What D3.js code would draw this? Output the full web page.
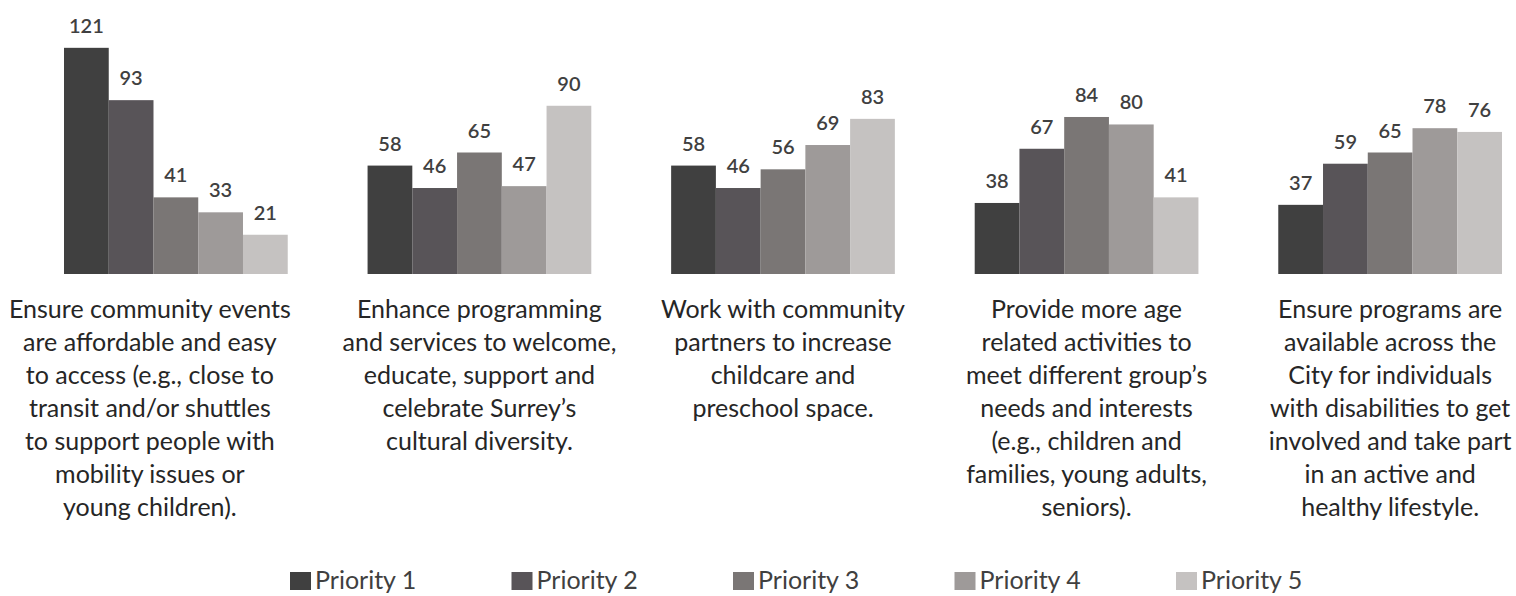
<!DOCTYPE html>
<html><head><meta charset="utf-8">
<script src="https://cdn.jsdelivr.net/npm/d3@7"></script>
<style>body{margin:0;background:#fff}svg{display:block}</style>
</head><body>
<svg id="c" width="1516" height="596"></svg>
<script>
const categories = [
  ["Ensure community events","are affordable and easy","to access (e.g., close to","transit and/or shuttles","to support people with","mobility issues or","young children)."],
  ["Enhance programming","and services to welcome,","educate, support and","celebrate Surrey\u2019s","cultural diversity."],
  ["Work with community","partners to increase","childcare and","preschool space."],
  ["Provide more age","related activities to","meet different group\u2019s","needs and interests","(e.g., children and","families, young adults,","seniors)."],
  ["Ensure programs are","available across the","City for individuals","with disabilities to get","involved and take part","in an active and","healthy lifestyle."]
];
const seriesNames = ["Priority 1","Priority 2","Priority 3","Priority 4","Priority 5"];
const priority1 = [121, 58, 58, 38, 37];
const priority2 = [93, 46, 46, 67, 59];
const priority3 = [41, 65, 56, 84, 65];
const priority4 = [33, 47, 69, 80, 78];
const priority5 = [21, 90, 83, 41, 76];
const colors = ["#404040","#585458","#7a7675","#9e9a99","#c5c2c1"];

const series = [priority1, priority2, priority3, priority4, priority5];
const svg = d3.select("#c");
const font = "Lato, 'Open Sans', sans-serif";
const x0 = d3.scaleBand().domain(d3.range(categories.length)).range([64, 1502]).paddingInner(0.263).paddingOuter(0);
const x1 = d3.scaleBand().domain(d3.range(seriesNames.length)).range([0, x0.bandwidth()]).padding(0);
const y = d3.scaleLinear().domain([0, 130]).range([274, 31]);

const groups = svg.selectAll("g.grp").data(categories).join("g").attr("class","grp")
  .attr("transform", (d,i) => `translate(${x0(i)},0)`);

groups.each(function(cat, ci){
  const g = d3.select(this);
  const vals = series.map(s => s[ci]);
  g.selectAll("rect").data(vals).join("rect")
    .attr("x", (d,si) => x1(si)).attr("width", x1.bandwidth())
    .attr("y", d => y(d)).attr("height", d => y(0) - y(d))
    .attr("fill", (d,si) => colors[si]);
  g.selectAll("text.val").data(vals).join("text").attr("class","val")
    .attr("x", (d,si) => x1(si) + x1.bandwidth()/2)
    .attr("y", d => y(d) - 15)
    .attr("text-anchor","middle")
    .attr("font-family", font).attr("font-size", 20).attr("font-weight", 600)
    .attr("fill", "#404040")
    .text(d => d);
});

// category labels: centred under each group; a block that comes close to the
// left edge is pushed flush to the chart margin (as the source layout does)
const edge = 9;
categories.forEach((lines, ci) => {
  const t = svg.append("text").attr("text-anchor","middle")
    .attr("font-family", font).attr("font-size", 25).attr("fill","#262626");
  const spans = lines.map((ln, li) => t.append("tspan").attr("y", 318 + li*33).text(ln));
  const w = d3.max(spans, s => s.node().getComputedTextLength());
  let cx = x0(ci) + x0.bandwidth()/2;
  if (cx - w/2 < 40) cx = edge + w/2;
  spans.forEach(s => s.attr("x", cx));
});

// legend
const lg = svg.append("g");
const lx = d3.scalePoint().domain(d3.range(seriesNames.length)).range([290, 1176]);
seriesNames.forEach((n, i) => {
  lg.append("rect").attr("x", lx(i)).attr("y", 572).attr("width", 21).attr("height", 18).attr("fill", colors[i]);
  lg.append("text").attr("x", lx(i) + 25).attr("y", 589)
    .attr("font-family", font).attr("font-size", 25).attr("fill", "#404040").text(n);
});
</script>
</body></html>
